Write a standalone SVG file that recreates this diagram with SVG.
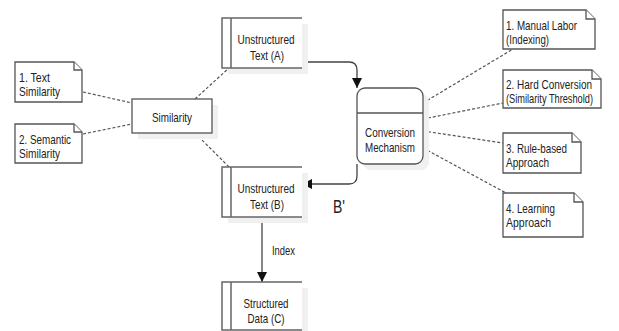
<svg xmlns="http://www.w3.org/2000/svg" width="619" height="331" viewBox="0 0 619 331">
<defs>
<style>
text{font-family:"Liberation Sans",Arial,sans-serif;font-size:13px;fill:#222}
.m{text-anchor:middle}
.box{fill:#fff;stroke:#555;stroke-width:1.3}
.shadow{fill:#f0f0f0;stroke:none}
.ds{fill:none;stroke:#666;stroke-width:1.5}
.note{fill:#fff;stroke:#555;stroke-width:1.3}
.dash{fill:none;stroke:#555;stroke-width:1.2;stroke-dasharray:3,2}
.arr{fill:none;stroke:#444;stroke-width:1.3}
</style>
<marker id="ah" viewBox="0 0 10 10" refX="10" refY="5" markerWidth="10" markerHeight="10" markerUnits="userSpaceOnUse" orient="auto">
<path d="M0,0 L10,5 L0,10 Z" fill="#111"/>
</marker>
</defs>
<rect width="619" height="331" fill="#fff"/>

<g id="connectors">
<path class="dash" d="M83,92 L132,103"/>
<path class="dash" d="M83,134 L132,124"/>
<path class="dash" d="M195,99 L229,68"/>
<path class="dash" d="M195,133 L229,167"/>
<path class="dash" d="M423,103 L513,49"/>
<path class="dash" d="M423,119 L503,103"/>
<path class="dash" d="M423,131 L503,143"/>
<path class="dash" d="M423,148 L506,193"/>
<path class="arr" d="M302,62 H349 Q357,62 357,70 V88" marker-end="url(#ah)"/>
<path class="arr" d="M357,164 V176 Q357,184 349,184 H302" marker-end="url(#ah)"/>
<path class="arr" d="M262,217 V282" marker-end="url(#ah)"/>
<text x="272" y="255" textLength="23" lengthAdjust="spacingAndGlyphs">Index</text>
<text x="333" y="213" style="font-size:19px" textLength="12" lengthAdjust="spacingAndGlyphs">B'</text>
</g>

<g id="note-text-similarity">
<path class="note" d="M15,62 H74 L82,70 V102 H15 Z"/>
<path class="note" d="M74,62 V70 H82" fill="none"/>
<text x="19" y="82" textLength="31" lengthAdjust="spacingAndGlyphs">1. Text</text>
<text x="19" y="96" textLength="41" lengthAdjust="spacingAndGlyphs">Similarity</text>
</g>

<g id="note-semantic-similarity">
<path class="note" d="M15,124 H74 L82,132 V163 H15 Z"/>
<path class="note" d="M74,124 V132 H82" fill="none"/>
<text x="19" y="144" textLength="52" lengthAdjust="spacingAndGlyphs">2. Semantic</text>
<text x="19" y="158" textLength="41" lengthAdjust="spacingAndGlyphs">Similarity</text>
</g>

<g id="similarity">
<rect class="shadow" x="138" y="105" width="80" height="34"/>
<rect class="box" x="132" y="99" width="80" height="34"/>
<text class="m" x="172" y="122" textLength="40" lengthAdjust="spacingAndGlyphs">Similarity</text>
</g>

<g id="unstructured-a">
<rect class="shadow" x="228" y="24" width="80" height="50"/>
<rect x="222" y="18" width="80" height="50" fill="#fff"/>
<path class="ds" d="M302,18 H222 V68 H302 M231,18 V68"/>
<text class="m" x="266" y="44" textLength="57" lengthAdjust="spacingAndGlyphs">Unstructured</text>
<text class="m" x="267" y="60" textLength="34" lengthAdjust="spacingAndGlyphs">Text (A)</text>
</g>

<g id="unstructured-b">
<rect class="shadow" x="228" y="173" width="80" height="50"/>
<rect x="222" y="167" width="80" height="50" fill="#fff"/>
<path class="ds" d="M302,167 H222 V217 H302 M231,167 V217"/>
<text class="m" x="266" y="193" textLength="57" lengthAdjust="spacingAndGlyphs">Unstructured</text>
<text class="m" x="267" y="209" textLength="34" lengthAdjust="spacingAndGlyphs">Text (B)</text>
</g>

<g id="structured-c">
<rect class="shadow" x="228" y="288" width="80" height="48"/>
<rect x="222" y="282" width="80" height="48" fill="#fff"/>
<path class="ds" d="M302,282 H222 V330 H302 M231,282 V330"/>
<text class="m" x="266" y="308" textLength="45" lengthAdjust="spacingAndGlyphs">Structured</text>
<text class="m" x="266" y="323" textLength="37" lengthAdjust="spacingAndGlyphs">Data (C)</text>
</g>

<g id="conversion">
<rect class="shadow" x="363" y="94" width="66" height="76" rx="8"/>
<rect class="box" x="357" y="88" width="66" height="76" rx="8"/>
<path class="box" d="M357,113 H423"/>
<text class="m" x="390" y="137" textLength="50" lengthAdjust="spacingAndGlyphs">Conversion</text>
<text class="m" x="390" y="152" textLength="50" lengthAdjust="spacingAndGlyphs">Mechanism</text>
</g>

<g id="note-manual">
<path class="note" d="M503,10 H586 L595,19 V49 H503 Z"/>
<path class="note" d="M586,10 V19 H595" fill="none"/>
<text x="506" y="30" textLength="71" lengthAdjust="spacingAndGlyphs">1. Manual Labor</text>
<text x="506" y="44" textLength="43" lengthAdjust="spacingAndGlyphs">(Indexing)</text>
</g>

<g id="note-hard">
<path class="note" d="M503,70 H592 L601,79 V108 H503 Z"/>
<path class="note" d="M592,70 V79 H601" fill="none"/>
<text x="506" y="89" textLength="86" lengthAdjust="spacingAndGlyphs">2. Hard Conversion</text>
<text x="506" y="103" textLength="87" lengthAdjust="spacingAndGlyphs">(Similarity Threshold)</text>
</g>

<g id="note-rule">
<path class="note" d="M503,133 H572 L581,142 V173 H503 Z"/>
<path class="note" d="M572,133 V142 H581" fill="none"/>
<text x="506" y="153" textLength="61" lengthAdjust="spacingAndGlyphs">3. Rule-based</text>
<text x="506" y="167" textLength="43" lengthAdjust="spacingAndGlyphs">Approach</text>
</g>

<g id="note-learning">
<path class="note" d="M503,193 H574 L583,202 V237 H503 Z"/>
<path class="note" d="M574,193 V202 H583" fill="none"/>
<text x="506" y="213" textLength="49" lengthAdjust="spacingAndGlyphs">4. Learning</text>
<text x="506" y="227" textLength="45" lengthAdjust="spacingAndGlyphs">Approach</text>
</g>
</svg>
